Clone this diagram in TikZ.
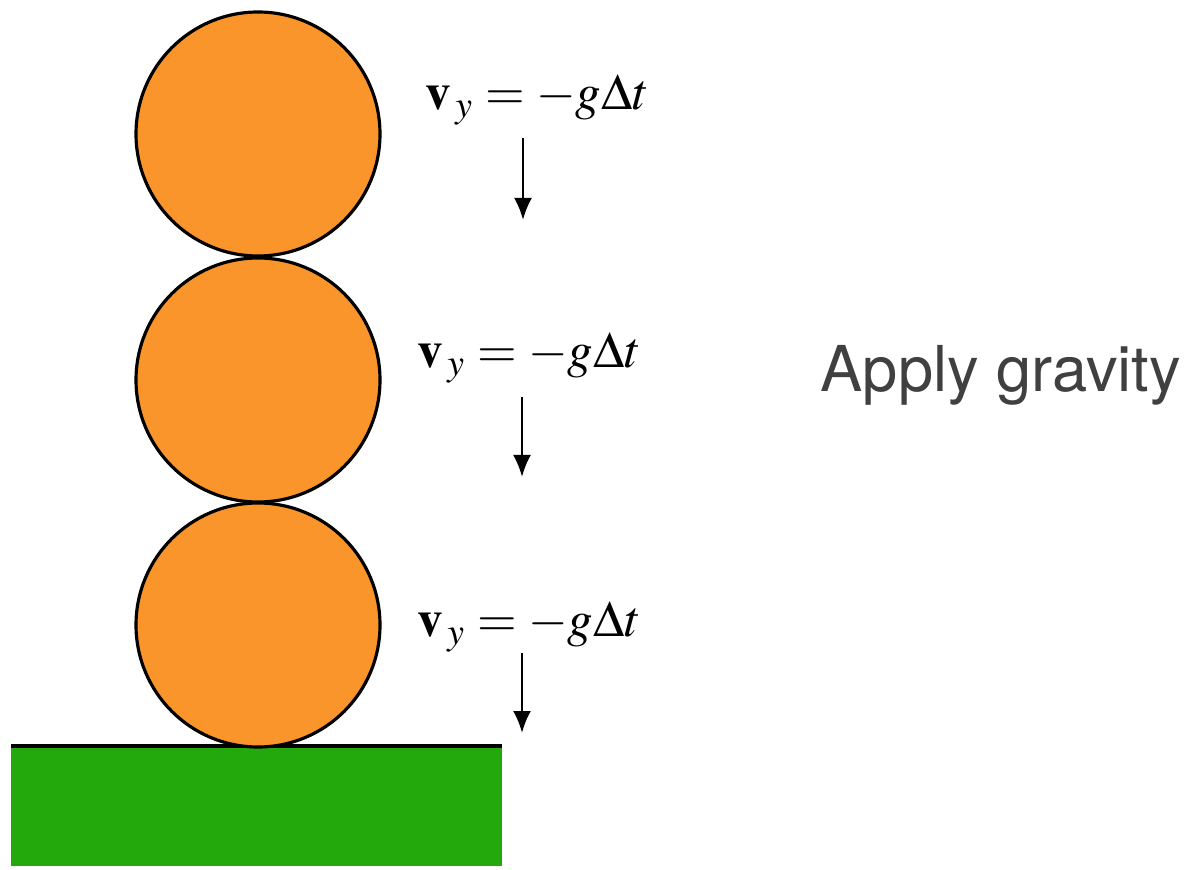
\documentclass[tikz,border=0pt]{standalone}
\usepackage{mathptmx}
\usepackage[no-math]{fontspec}
\usetikzlibrary{arrows.meta}
\newfontfamily\captionfont{TeX Gyre Heros}
\definecolor{ballorange}{HTML}{FA952B}
\definecolor{groundgreen}{HTML}{23A90B}
\definecolor{captiongrey}{HTML}{404040}

\begin{document}
\begin{tikzpicture}[
  ball/.style={circle, draw=black, line width=0.9pt, fill=ballorange,
    minimum size=2.44cm, inner sep=0pt},
  vlabel/.style={anchor=base west, inner sep=0pt,
    font=\fontsize{14.5}{17}\selectfont},
  fall/.style={-{Latex[length=0.22cm,width=0.18cm]}, line width=0.75pt}
]
  \fill[white] (0,0) rectangle (11.87,8.69);

  % ground
  \fill[groundgreen] (0.11,0.03) rectangle (5.02,1.23);
  \draw[black, line width=1.1pt] (0.11,1.23) -- (5.02,1.23);

  % stacked balls
  \node[ball] (ball1) at (2.58,7.35) {};
  \node[ball] (ball2) at (2.58,4.89) {};
  \node[ball] (ball3) at (2.58,2.44) {};

  % velocity labels
  \node[vlabel] (vel1) at (4.25,7.59) {$\mathbf{v}_{\,y} = -g\Delta t$};
  \node[vlabel] (vel2) at (4.17,5.01) {$\mathbf{v}_{\,y} = -g\Delta t$};
  \node[vlabel] (vel3) at (4.17,2.32) {$\mathbf{v}_{\,y} = -g\Delta t$};

  % gravity arrows
  \coordinate (top1) at (5.23,7.31);
  \coordinate (tip1) at (5.23,6.49);
  \coordinate (top2) at (5.22,4.72);
  \coordinate (tip2) at (5.22,3.92);
  \coordinate (top3) at (5.22,2.16);
  \coordinate (tip3) at (5.22,1.36);
  \draw[fall] (top1) -- (tip1);
  \draw[fall] (top2) -- (tip2);
  \draw[fall] (top3) -- (tip3);

  \node[captiongrey, anchor=base west, inner sep=0pt,
    font=\captionfont\fontsize{18}{20}\selectfont]
    (caption) at (8.20,4.77) {Apply gravity};
\end{tikzpicture}
\end{document}
